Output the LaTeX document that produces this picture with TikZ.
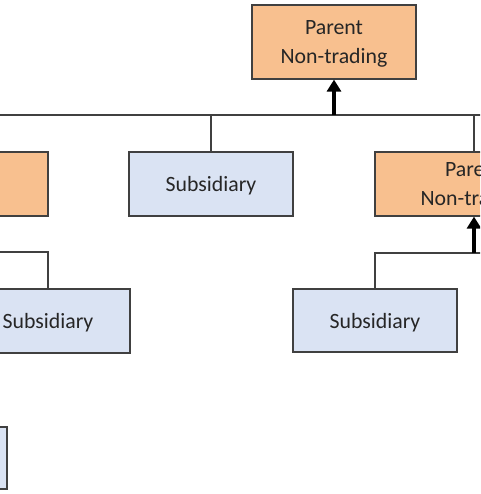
\documentclass[tikz,border=0pt]{standalone}
\usepackage{fontspec}
\setmainfont{Carlito}
\usetikzlibrary{arrows.meta,positioning}
\definecolor{parentfill}{HTML}{F8C08F}
\definecolor{subfill}{HTML}{DAE3F3}
\definecolor{edgegray}{HTML}{404040}

\begin{document}
\begin{tikzpicture}[x=1pt, y=-1pt]
  \tikzstyle{parent} = [rectangle, draw=edgegray, fill=parentfill, line width=1.2pt, text=black!85,
                      minimum width=164pt, minimum height=64pt, align=center, text depth=0pt,
                      font=\fontsize{21.8}{28.5}\selectfont]
  \tikzstyle{subsid} = [rectangle, draw=edgegray, fill=subfill, line width=1.2pt, text=black!85,
                      minimum width=164pt, minimum height=64pt, align=center, text depth=0pt,
                      font=\fontsize{21.8}{28.5}\selectfont]
  \tikzstyle{link} = [draw=edgegray, line width=1.2pt]
  \tikzstyle{uparrow} = [-{Triangle[width=14pt,length=12pt]}, line width=4.5pt, black]
  \clip (0,0) rectangle (480,494);
  \node[parent, minimum height=74pt] (top) at (334,42) {Parent\\Non-trading};
  \node[parent, minimum width=198pt] (lp) at (-51,184) {};
  \node[subsid] (ms) at (211,184) {Subsidiary};
  \node[parent, minimum width=198pt] (rp) at (474,184) {Parent\\Non-trading};
  \node[subsid] (ls) at (48,321) {Subsidiary};
  \node[subsid, minimum height=63pt] (rs) at (375,320.5) {Subsidiary};
  \node[subsid, minimum height=62pt] (bs) at (-75,458) {};
  % top level
  \coordinate (bus) at (560,115);
  \draw[link] (lp.north) |- (bus);
  \draw[link] (ms.north) -- (ms.north |- bus);
  \draw[link] (rp.north) -- (rp.north |- bus);
  \draw[uparrow] (top.south |- bus) -- (top.south);
  % under the parents
  \coordinate (rbus) at (560,253);
  \draw[link] (rs.north) |- (rbus);
  \draw[uparrow] (rp.south |- rbus) -- (rp.south);
  \coordinate (lbus) at (-51,252);
  \draw[link] (ls.north) |- (lbus);
  \draw[uparrow] (lbus) -- (lp.south);
\end{tikzpicture}
\end{document}
